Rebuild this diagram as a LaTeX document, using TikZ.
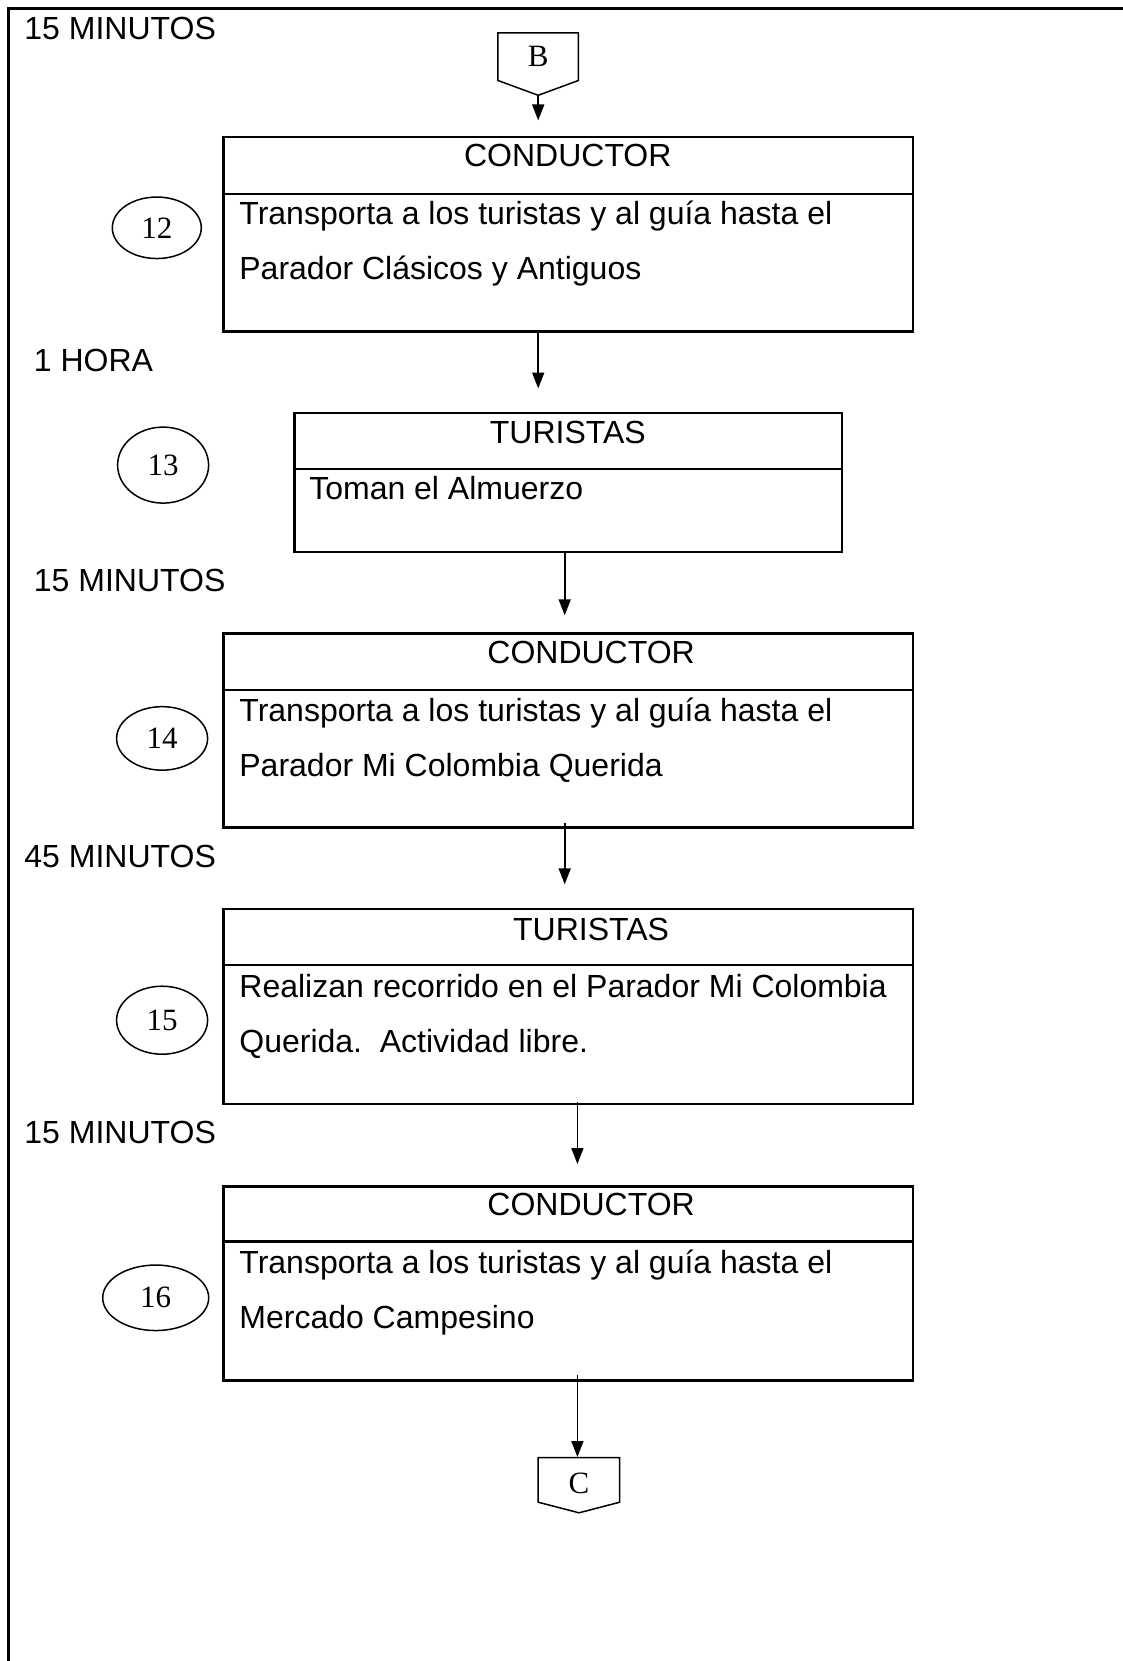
\documentclass[tikz,border=0pt]{standalone}
\usepackage{fontspec}
\setmainfont{Liberation Sans}
\newfontfamily\serifnum{Liberation Serif}
\usetikzlibrary{arrows.meta,shapes.geometric}

\begin{document}
\begin{tikzpicture}[x=1pt,y=-1pt,
  every node/.style={inner sep=0pt, outer sep=0pt},
  txt/.style={font=\fontsize{32}{37}\selectfont, anchor=base west},
  head/.style={font=\fontsize{32}{37}\selectfont, anchor=base},
  actbox/.style={draw, line width=2.3pt, anchor=north west, minimum width=689.7pt},
  divider/.style={line width=2.3pt},
  num/.style={draw, ellipse, line width=1.5pt, font=\serifnum\fontsize{31}{31}\selectfont},
  conn/.style={draw, line width=1.5pt, line join=miter},
  letter/.style={font=\serifnum\fontsize{31}{31}\selectfont},
  flow/.style={line width=1.7pt, -{Triangle[width=12pt,length=16pt]}},
]
\useasboundingbox (0,0) rectangle (1123,1661);

% page frame (top and left edges)
\draw[line width=2.2pt] (8.5,1661) -- (8.5,8.5) -- (1123,8.5);

% time labels
\node[txt] (t1) at (24.4,39.8) {15 MINUTOS};
\node[txt] (t2) at (33.9,371.4) {1 HORA};
\node[txt] (t3) at (33.9,591.8) {15 MINUTOS};
\node[txt] (t4) at (24.4,867.2) {45 MINUTOS};
\node[txt] (t5) at (24.4,1143.7) {15 MINUTOS};

% off-page connector B
\draw[conn] (497.9,32.8) -- (578.4,32.8) -- (578.4,80.5) -- (538.2,95.3) -- (497.9,80.5) -- cycle;
\node[letter] (B) at (538.2,56.5) {B};
\coordinate (Bpt) at (538.2,95.3);
\coordinate (Bend) at (538.2,120.5);

% step 12
\node[actbox, minimum height=194.9pt] (box1) at (223.5,136.7) {};
\draw[divider] (223.5,193.9) -- (913.2,193.9);
\node[head] (h1) at (567.8,166.9) {CONDUCTOR};
\node[txt] (b1a) at (239.4,224.1) {Transporta a los turistas y al guía hasta el};
\node[txt] (b1b) at (239.4,279.2) {Parador Clásicos y Antiguos};
\node[num, minimum width=89pt, minimum height=61.5pt] (n12) at (156.8,227.8) {12};
\coordinate (a1s) at (538.2,331.6);
\coordinate (a1e) at (538.2,388.5);

% step 13
\node[actbox, minimum width=547.7pt, minimum height=138.7pt] (box2) at (294.5,413.2) {};
\draw[divider] (294.5,469.3) -- (842.2,469.3);
\node[head] (h2) at (567.8,443.4) {TURISTAS};
\node[txt] (b2a) at (309.3,499.6) {Toman el Almuerzo};
\node[num, minimum width=91pt, minimum height=76pt] (n13) at (163.1,465.1) {13};
\coordinate (a2s) at (564.7,551.9);
\coordinate (a2e) at (564.7,615.3);

% step 14
\node[actbox, minimum height=193.9pt] (box3) at (223.5,633.5) {};
\draw[divider] (223.5,689.7) -- (913.2,689.7);
\node[head] (h3) at (591.1,663.8) {CONDUCTOR};
\node[txt] (b3a) at (239.4,721.0) {Transporta a los turistas y al guía hasta el};
\node[txt] (b3b) at (239.4,776.1) {Parador Mi Colombia Querida};
\node[num, minimum width=91pt, minimum height=63.5pt] (n14) at (162.1,738.4) {14};
\coordinate (a3s) at (564.7,823.2);
\coordinate (a3e) at (564.7,884.3);

% step 15
\node[actbox, minimum height=194.9pt] (box4) at (223.5,909.0) {};
\draw[divider] (223.5,965.1) -- (913.2,965.1);
\node[head] (h4) at (591.1,940.3) {TURISTAS};
\node[txt] (b4a) at (239.4,997.5) {Realizan recorrido en el Parador Mi Colombia};
\node[txt] (b4b) at (239.4,1052.6) {Querida.\ \ Actividad libre.};
\node[num, minimum width=91pt, minimum height=68pt] (n15) at (162.1,1020.2) {15};
\coordinate (a4s) at (577.4,1101.8);
\coordinate (a4e) at (577.4,1164.0);

% step 16
\node[actbox, minimum height=193.9pt] (box5) at (223.5,1186.5) {};
\draw[divider] (223.5,1241.6) -- (913.2,1241.6);
\node[head] (h5) at (591.1,1215.7) {CONDUCTOR};
\node[txt] (b5a) at (239.4,1273.0) {Transporta a los turistas y al guía hasta el};
\node[txt] (b5b) at (239.4,1328.0) {Mercado Campesino};
\node[num, minimum width=106pt, minimum height=65.5pt] (n16) at (155.7,1297.8) {16};
\coordinate (a5s) at (577.4,1375.1);
\coordinate (a5e) at (577.4,1457.0);

% off-page connector C
\draw[conn] (538.2,1457.7) -- (619.7,1457.7) -- (619.7,1502.2) -- (579.0,1512.8) -- (538.2,1502.2) -- cycle;
\node[letter] (C) at (579.0,1483.5) {C};

% flow arrows
\draw[flow] (Bpt) -- (Bend);
\draw[flow] (a1s) -- (a1e);
\draw[flow] (a2s) -- (a2e);
\draw[flow] (a3s) -- (a3e);
\draw[flow] (a4s) -- (a4e);
\draw[flow] (a5s) -- (a5e);
\end{tikzpicture}
\end{document}
